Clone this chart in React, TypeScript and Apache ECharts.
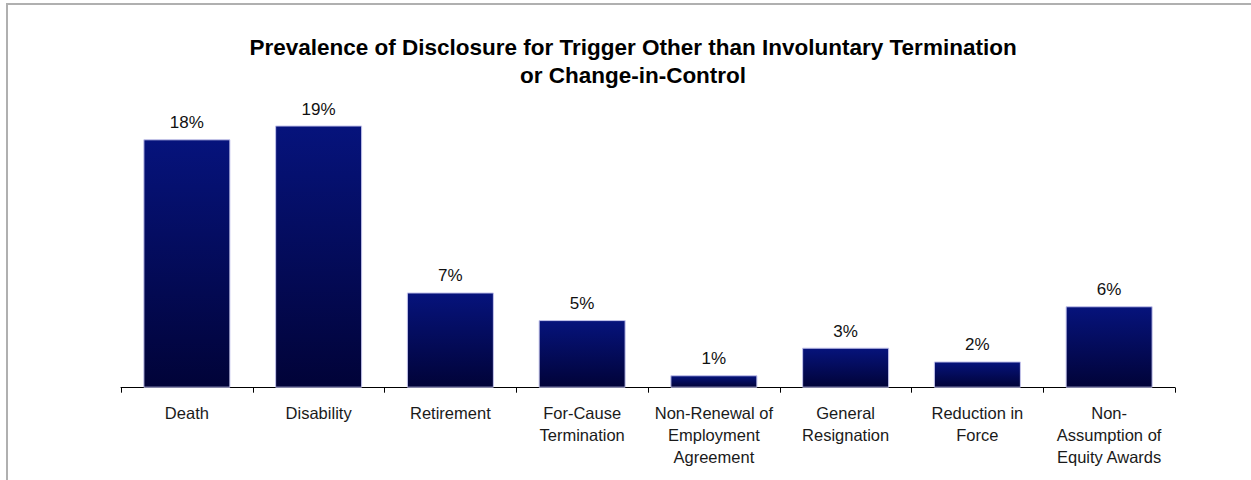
import React, { useEffect, useRef } from "react";
import * as echarts from "echarts";

const titleLines = [
  "Prevalence of Disclosure for Trigger Other than Involuntary Termination",
  "or Change-in-Control",
];
const categories = [
  "Death",
  "Disability",
  "Retirement",
  "For-Cause\nTermination",
  "Non-Renewal of\nEmployment\nAgreement",
  "General\nResignation",
  "Reduction in\nForce",
  "Non-\nAssumption of\nEquity Awards",
];
const prevalence = [18, 19, 6.9, 4.9, 0.9, 2.9, 1.9, 5.9];
const yMax = 20;

export default function App() {
  const ref = useRef<HTMLDivElement>(null);
  useEffect(() => {
    if (!ref.current) return;
    const chart = echarts.init(ref.current, null, { renderer: "svg" });
    chart.setOption({
      animation: false,
      backgroundColor: "#ffffff",
      textStyle: { fontFamily: "'Liberation Sans', Arial, sans-serif" },
      graphic: [
        {
          type: "rect",
          shape: { x: 7, y: 4, width: 1300, height: 520 },
          style: { fill: "none", stroke: "#b0b0b0", lineWidth: 2 },
          silent: true,
          z: -1,
        },
        {
          type: "text",
          x: 633,
          y: 33,
          style: {
            text: titleLines.join("\n"),
            align: "center",
            verticalAlign: "top",
            fontSize: 22.5,
            fontWeight: "bold",
            lineHeight: 28,
            fill: "#000000",
            fontFamily: "'Liberation Sans', Arial, sans-serif",
          },
        },
      ],
      grid: { left: 121, right: 76, top: 111.7, bottom: 92.3 },
      xAxis: {
        type: "category",
        data: categories,
        boundaryGap: true,
        axisLine: { show: true, lineStyle: { color: "#000000", width: 1 } },
        axisTick: { show: true, length: 5, lineStyle: { color: "#000000" } },
        axisLabel: {
          interval: 0,
          margin: 14.5,
          fontSize: 16.5,
          lineHeight: 22,
          color: "#1a1a1a",
          fontFamily: "'Liberation Sans', Arial, sans-serif",
        },
      },
      yAxis: {
        type: "value",
        min: 0,
        max: yMax,
        show: false,
        splitLine: { show: false },
      },
      series: [
        {
          type: "bar",
          data: prevalence,
          barWidth: 87,
          itemStyle: {
            color: new echarts.graphic.LinearGradient(0, 0, 0, 1, [
              { offset: 0, color: "#06137c" },
              { offset: 1, color: "#010338" },
            ]),
            borderColor: "#c4c4ec",
            borderWidth: 1,
          },
          label: {
            show: true,
            position: "top",
            distance: 8,
            fontSize: 17,
            lineHeight: 17,
            color: "#111111",
            fontFamily: "'Liberation Sans', Arial, sans-serif",
            formatter: (p: any) => Math.round(p.value) + "%",
          },
        },
      ],
    });
    return () => chart.dispose();
  }, []);
  return (
    <div
      ref={ref}
      style={{ position: "fixed", left: 0, top: 0, width: 1251, height: 480 }}
    />
  );
}
